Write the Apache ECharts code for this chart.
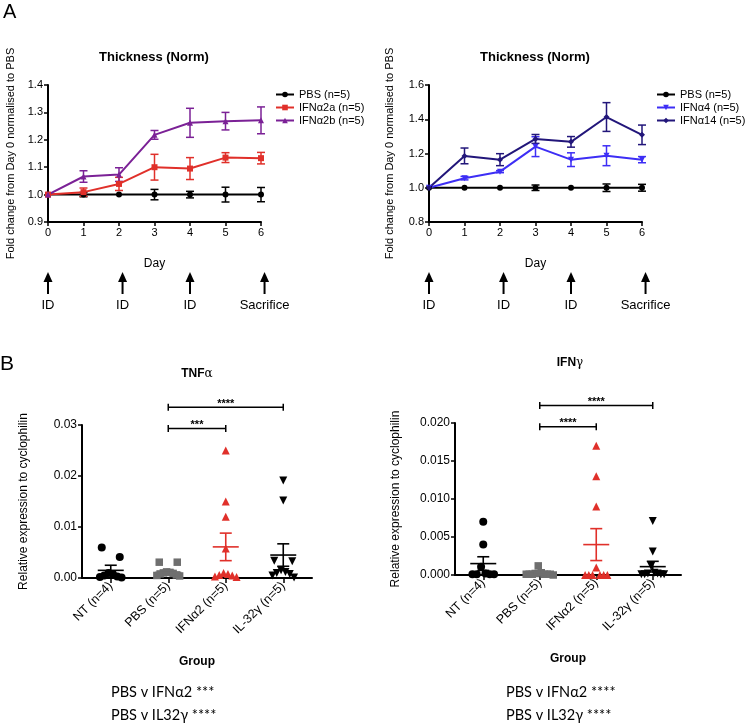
<!DOCTYPE html>
<html><head><meta charset="utf-8">
<script src="https://cdn.jsdelivr.net/npm/echarts@6/dist/echarts.min.js"></script>
<style>html,body{margin:0;padding:0;background:#fff}#c{width:746px;height:723px}</style>
</head><body><div id="c"></div>
<script>
// ---------- Panel A data ----------
const days = [0, 1, 2, 3, 4, 5, 6];
const pbsLeft = [1, 1, 1, 1, 1, 1, 1];
const pbsLeftErr = [0, 0.008, 0, 0.019, 0.012, 0.027, 0.026];
const ifna2a = [1, 1.009, 1.039, 1.100, 1.095, 1.135, 1.133];
const ifna2aErr = [0, 0.015, 0.024, 0.047, 0.040, 0.018, 0.021];
const ifna2b = [1, 1.066, 1.073, 1.218, 1.262, 1.268, 1.271];
const ifna2bErr = [0, 0.021, 0.025, 0.016, 0.053, 0.032, 0.049];
const pbsRight = [1, 1, 1, 1, 1, 1, 1];
const pbsRightErr = [0, 0, 0, 0.016, 0, 0.022, 0.02];
const ifna4 = [1, 1.056, 1.094, 1.240, 1.164, 1.187, 1.164];
const ifna4Err = [0, 0.01, 0.006, 0.058, 0.04, 0.058, 0.018];
const ifna14 = [1, 1.186, 1.164, 1.285, 1.268, 1.413, 1.309];
const ifna14Err = [0, 0.046, 0.035, 0.026, 0.031, 0.084, 0.057];
const injDays = [0, 2.1, 4, 6.1];
const injLabels = ['ID', 'ID', 'ID', 'Sacrifice'];
const ticksLeftA = [0.9, 1.4, 0.1];
const ticksRightA = [0.8, 1.6, 0.2];

// ---------- Panel B data ----------
const groups = ['NT (n=4)', 'PBS (n=5)', 'IFNα2 (n=5)', 'IL-32γ (n=5)'];
const tnfNT = [0.006, 0.0041, 0.001, 0.0008, 0.0005, 0.0003, 0.0002, 0.0001];
const tnfPBS = [0.0031, 0.0031, 0.0012, 0.0011, 0.001, 0.0009, 0.0008, 0.0006, 0.0005, 0.0004];
const tnfIFN = [0.025, 0.015, 0.012, 0.0058, 0.001, 0.0008, 0.0006, 0.0005, 0.0003, 0.0002];
const tnfIL = [0.0191, 0.0152, 0.0034, 0.0033, 0.0015, 0.0012, 0.001, 0.0008, 0.0005, 0.0001];
const tnfMean = [0.0015, 0.0011, 0.0061, 0.0045];
const tnfSem = [0.001, 0.0004, 0.0027, 0.0022];
const ifngNT = [0.007, 0.004, 0.0011, 0.0002, 0.0001, 0.0001, 0.0001, 0.0001];
const ifngPBS = [0.0012, 0.0003, 0.0002, 0.0001, 0.0001, 0.0001, 0.0001, 0.0001, 0.0001, 0];
const ifngIFN = [0.017, 0.013, 0.009, 0.001, 0, 0, 0, 0, 0, 0];
const ifngIL = [0.0071, 0.0031, 0.0012, 0.0003, 0.0002, 0.0002, 0.0001, 0.0001, 0.0001, 0.0001];
const ifngMean = [0.0015, 0.0002, 0.004, 0.0011];
const ifngSem = [0.0009, 0.0001, 0.0021, 0.0007];
const tnfBrackets = [[1, 3, 0.0335], [1, 2, 0.0293]];
const tnfStars = ['****', '***'];
const ifngBrackets = [[1, 3, 0.0223], [1, 2, 0.0195]];
const ifngStars = ['****', '****'];
const ticksTNF = [0, 0.03, 0.01];
const ticksIFNG = [0, 0.02, 0.005];

// ---------- styling ----------
const FONT = 'Liberation Sans';
const RED = '#e0302a', PURPLE = '#7b2196', BLUE = '#3d2ef5', NAVY = '#22167a', GRAY = '#6f6f6f';
const grids = [
  {left: 48, top: 85, width: 213, height: 137},
  {left: 429, top: 85, width: 213, height: 137},
  {left: 82, top: 425, width: 230, height: 153},
  {left: 455, top: 423, width: 226, height: 152}
];

function lineSeries(name, vals, color, symbol, rot, idx) {
  return {type: 'line', name, xAxisIndex: idx, yAxisIndex: idx,
    data: days.map((d, i) => [d, vals[i]]), symbol, symbolRotate: rot || 0, symbolSize: 6,
    itemStyle: {color}, lineStyle: {color, width: 2}, z: 3, animation: false};
}
function errSeries(vals, errs, color, idx) {
  return {type: 'custom', xAxisIndex: idx, yAxisIndex: idx, silent: true,
    data: days.map((d, i) => [d, vals[i], errs[i]]),
    renderItem(params, api) {
      const x = api.value(0), y = api.value(1), e = api.value(2);
      if (!e) return null;
      const t = api.coord([x, y + e]), b = api.coord([x, y - e]);
      const st = {stroke: color, lineWidth: 1.5};
      return {type: 'group', children: [
        {type: 'line', shape: {x1: t[0], y1: t[1], x2: b[0], y2: b[1]}, style: st},
        {type: 'line', shape: {x1: t[0] - 4, y1: t[1], x2: t[0] + 4, y2: t[1]}, style: st},
        {type: 'line', shape: {x1: b[0] - 4, y1: b[1], x2: b[0] + 4, y2: b[1]}, style: st}]};
    }, z: 2, animation: false};
}
function arrowSeries(idx, ymin) {
  return {type: 'custom', xAxisIndex: idx, yAxisIndex: idx, clip: false, silent: true,
    data: injDays.map(d => [d, ymin]),
    renderItem(params, api) {
      const p = api.coord([api.value(0), api.value(1)]);
      const x = p[0], y0 = p[1];
      return {type: 'group', children: [
        {type: 'polygon', shape: {points: [[x, y0 + 50], [x - 4.5, y0 + 60], [x + 4.5, y0 + 60]]}, style: {fill: '#000'}},
        {type: 'line', shape: {x1: x, y1: y0 + 58, x2: x, y2: y0 + 72}, style: {stroke: '#000', lineWidth: 2}},
        {type: 'text', style: {text: injLabels[params.dataIndex], x: x, y: y0 + 83, fill: '#000',
          fontSize: 13, fontFamily: FONT, align: 'center', verticalAlign: 'middle'}}]};
    }, animation: false};
}
// row-based scatter spread (layout only): points with close pixel heights share a row, spread symmetrically
function spread(vals, ymax, hPx, catW) {
  const order = vals.map((v, i) => i).sort((a, b) => vals[a] - vals[b]);
  const rows = [];
  let cur = null;
  for (const i of order) {
    const y = vals[i] / ymax * hPx;
    if (!cur || y - cur.y0 >= 10) { cur = {y0: y, idx: []}; rows.push(cur); }
    cur.idx.push(i);
  }
  const off = new Array(vals.length).fill(0);
  rows.forEach(r => {
    const n = r.idx.length;
    const s = Math.max(3, Math.min(18, n <= 3 ? 36 / n : 26 / n));
    const slots = [];
    for (let j = 0; j < n; j++) slots.push((j - (n - 1) / 2) * s);
    slots.sort((a, b) => Math.abs(a) - Math.abs(b) || a - b);
    const desc = r.idx.slice().sort((a, b) => vals[b] - vals[a]);
    desc.forEach((i, j) => { off[i] = slots[j] / catW; });
  });
  return off;
}
function scatterSeries(vals, cat, color, symbol, rot, gi, xi, ymax) {
  const g = grids[gi];
  const off = spread(vals, ymax, g.height, g.width / 4);
  return {type: 'scatter', xAxisIndex: xi, yAxisIndex: gi, symbol, symbolRotate: rot || 0,
    symbolSize: symbol === 'rect' ? 7.5 : 8, itemStyle: {color, opacity: 1},
    data: vals.map((v, i) => [cat + off[i], v]), z: 3, animation: false, silent: true};
}
function meanSeries(means, sems, colors, gi, xi) {
  return {type: 'custom', xAxisIndex: xi, yAxisIndex: gi, silent: true,
    data: means.map((m, i) => [i, m, sems[i]]),
    renderItem(params, api) {
      const c = colors[params.dataIndex];
      const x = api.value(0), m = api.value(1), s = api.value(2);
      const pm = api.coord([x, m]), pt = api.coord([x, m + s]), pb = api.coord([x, Math.max(0, m - s)]);
      const st = {stroke: c, lineWidth: 1.6};
      return {type: 'group', children: [
        {type: 'line', shape: {x1: pm[0] - 13, y1: pm[1], x2: pm[0] + 13, y2: pm[1]}, style: st},
        {type: 'line', shape: {x1: pt[0], y1: pt[1], x2: pb[0], y2: pb[1]}, style: st},
        {type: 'line', shape: {x1: pt[0] - 6, y1: pt[1], x2: pt[0] + 6, y2: pt[1]}, style: st},
        {type: 'line', shape: {x1: pb[0] - 6, y1: pb[1], x2: pb[0] + 6, y2: pb[1]}, style: st}]};
    }, z: 4, animation: false};
}
function bracketSeries(br, stars, gi, xi) {
  return {type: 'custom', xAxisIndex: xi, yAxisIndex: gi, clip: false, silent: true,
    data: br,
    renderItem(params, api) {
      const a = api.coord([api.value(0), api.value(2)]), b = api.coord([api.value(1), api.value(2)]);
      const st = {stroke: '#000', lineWidth: 1.5};
      return {type: 'group', children: [
        {type: 'line', shape: {x1: a[0], y1: a[1], x2: b[0], y2: b[1]}, style: st},
        {type: 'line', shape: {x1: a[0], y1: a[1] - 3.5, x2: a[0], y2: a[1] + 3.5}, style: st},
        {type: 'line', shape: {x1: b[0], y1: b[1] - 3.5, x2: b[0], y2: b[1] + 3.5}, style: st},
        {type: 'text', style: {text: stars[params.dataIndex], x: (a[0] + b[0]) / 2, y: a[1] + 2,
          fontSize: 11, fontWeight: 'bold', fontFamily: FONT, fill: '#000', align: 'center', verticalAlign: 'bottom'}}]};
    }, z: 4, animation: false};
}

const axLine = {show: true, onZero: false, lineStyle: {color: '#000', width: 2}};
const axTick = {show: true, inside: false, length: 4, lineStyle: {color: '#000', width: 1.5}};
function valX(gi, name) {
  return {type: 'value', gridIndex: gi, min: 0, max: 6, interval: 1, name, nameLocation: 'middle', nameGap: 36,
    nameTextStyle: {fontSize: 12, fontFamily: FONT, color: '#000'},
    axisLine: axLine, axisTick: axTick, splitLine: {show: false},
    axisLabel: {fontSize: 11, fontFamily: FONT, color: '#000', margin: 5}};
}
function valY(gi, t, dec, name, gap, fs, lfs) {
  return {type: 'value', gridIndex: gi, min: t[0], max: t[1], interval: t[2], name, nameLocation: 'middle', nameGap: gap,
    nameTextStyle: {fontSize: lfs, fontFamily: FONT, color: '#000'},
    axisLine: axLine, axisTick: axTick, splitLine: {show: false},
    axisLabel: {fontSize: fs, fontFamily: FONT, color: '#000', margin: 5, formatter: v => v.toFixed(dec)}};
}
function catX(gi) {
  return {type: 'category', gridIndex: gi, data: groups, boundaryGap: true, name: 'Group', nameLocation: 'middle', nameGap: 78,
    nameTextStyle: {fontSize: 12, fontWeight: 'bold', fontFamily: FONT, color: '#000'},
    axisLine: axLine, axisTick: Object.assign({}, axTick, {alignWithLabel: true, length: 5}),
    axisLabel: {fontSize: 12.5, fontFamily: FONT, color: '#000', rotate: 45, margin: 6, interval: 0}};
}
function hidX(gi) {
  return {type: 'value', gridIndex: gi, min: -0.5, max: 3.5, show: false, splitLine: {show: false}};
}

const legendBase = {orient: 'vertical', itemWidth: 18, itemHeight: 7, itemGap: 2, padding: 0,
  textStyle: {fontSize: 11, fontFamily: FONT, color: '#000'}, selectedMode: false};

const option = {
  backgroundColor: '#fff',
  animation: false,
  grid: grids.map(g => Object.assign({containLabel: false}, g)),
  xAxis: [valX(0, 'Day'), valX(1, 'Day'), catX(2), hidX(2), catX(3), hidX(3)],
  yAxis: [
    valY(0, ticksLeftA, 1, 'Fold change from Day 0 normalised to PBS', 32, 11, 11),
    valY(1, ticksRightA, 1, 'Fold change from Day 0 normalised to PBS', 34, 11, 11),
    valY(2, ticksTNF, 2, 'Relative expression to cyclophilin', 52, 12, 12),
    valY(3, ticksIFNG, 3, 'Relative expression to cyclophilin', 53, 12, 12)
  ],
  legend: [
    Object.assign({}, legendBase, {left: 275, top: 89, data: ['PBS (n=5)', 'IFNα2a (n=5)', 'IFNα2b (n=5)']}),
    Object.assign({}, legendBase, {left: 656, top: 89, data: ['PBS (n=5)', 'IFNα4 (n=5)', 'IFNα14 (n=5)']})
  ],
  series: [
    errSeries(pbsLeft, pbsLeftErr, '#000', 0),
    errSeries(ifna2a, ifna2aErr, RED, 0),
    errSeries(ifna2b, ifna2bErr, PURPLE, 0),
    lineSeries('PBS (n=5)', pbsLeft, '#000', 'circle', 0, 0),
    lineSeries('IFNα2a (n=5)', ifna2a, RED, 'rect', 0, 0),
    lineSeries('IFNα2b (n=5)', ifna2b, PURPLE, 'triangle', 0, 0),
    arrowSeries(0, ticksLeftA[0]),
    errSeries(pbsRight, pbsRightErr, '#000', 1),
    errSeries(ifna4, ifna4Err, BLUE, 1),
    errSeries(ifna14, ifna14Err, NAVY, 1),
    lineSeries('PBS (n=5)', pbsRight, '#000', 'circle', 0, 1),
    lineSeries('IFNα4 (n=5)', ifna4, BLUE, 'triangle', 180, 1),
    lineSeries('IFNα14 (n=5)', ifna14, NAVY, 'diamond', 0, 1),
    arrowSeries(1, ticksRightA[0]),
    scatterSeries(tnfNT, 0, '#000', 'circle', 0, 2, 3, ticksTNF[1]),
    scatterSeries(tnfPBS, 1, GRAY, 'rect', 0, 2, 3, ticksTNF[1]),
    scatterSeries(tnfIFN, 2, RED, 'triangle', 0, 2, 3, ticksTNF[1]),
    scatterSeries(tnfIL, 3, '#000', 'triangle', 180, 2, 3, ticksTNF[1]),
    meanSeries(tnfMean, tnfSem, ['#000', GRAY, RED, '#000'], 2, 3),
    bracketSeries(tnfBrackets, tnfStars, 2, 3),
    scatterSeries(ifngNT, 0, '#000', 'circle', 0, 3, 5, ticksIFNG[1]),
    scatterSeries(ifngPBS, 1, GRAY, 'rect', 0, 3, 5, ticksIFNG[1]),
    scatterSeries(ifngIFN, 2, RED, 'triangle', 0, 3, 5, ticksIFNG[1]),
    scatterSeries(ifngIL, 3, '#000', 'triangle', 180, 3, 5, ticksIFNG[1]),
    meanSeries(ifngMean, ifngSem, ['#000', GRAY, RED, '#000'], 3, 5),
    bracketSeries(ifngBrackets, ifngStars, 3, 5)
  ],
  graphic: [
    {type: 'text', left: 3, top: 2, style: {text: 'A', fontSize: 20, fontFamily: FONT, fill: '#000'}},
    {type: 'text', left: 0, top: 354, style: {text: 'B', fontSize: 21, fontFamily: FONT, fill: '#000'}},
    {type: 'text', x: 154, y: 57, style: {text: 'Thickness (Norm)', fontSize: 13, fontWeight: 'bold', fontFamily: FONT, fill: '#000', align: 'center', verticalAlign: 'middle'}},
    {type: 'text', x: 535, y: 57, style: {text: 'Thickness (Norm)', fontSize: 13, fontWeight: 'bold', fontFamily: FONT, fill: '#000', align: 'center', verticalAlign: 'middle'}},
    {type: 'text', x: 197, y: 374, style: {text: '{b|TNF}{n|α}', rich: {b: {fontSize: 12, fontWeight: 'bold', fontFamily: FONT}, n: {fontSize: 12, fontFamily: 'DejaVu Serif'}}, fill: '#000', align: 'center', verticalAlign: 'middle'}},
    {type: 'text', x: 570, y: 363, style: {text: '{b|IFN}{n|γ}', rich: {b: {fontSize: 12, fontWeight: 'bold', fontFamily: FONT}, n: {fontSize: 12, fontFamily: 'DejaVu Serif'}}, fill: '#000', align: 'center', verticalAlign: 'middle'}},
    {type: 'text', left: 111, top: 685, style: {text: 'PBS v IFNα2 ***', fontSize: 14.5, fontFamily: 'Lato', fill: '#000'}},
    {type: 'text', left: 111, top: 708, style: {text: 'PBS v IL32γ ****', fontSize: 14.5, fontFamily: 'Lato', fill: '#000'}},
    {type: 'text', left: 506, top: 685, style: {text: 'PBS v IFNα2 ****', fontSize: 14.5, fontFamily: 'Lato', fill: '#000'}},
    {type: 'text', left: 506, top: 708, style: {text: 'PBS v IL32γ ****', fontSize: 14.5, fontFamily: 'Lato', fill: '#000'}}
  ]
};
const chart = echarts.init(document.getElementById('c'));
chart.setOption(option);
</script></body></html>
